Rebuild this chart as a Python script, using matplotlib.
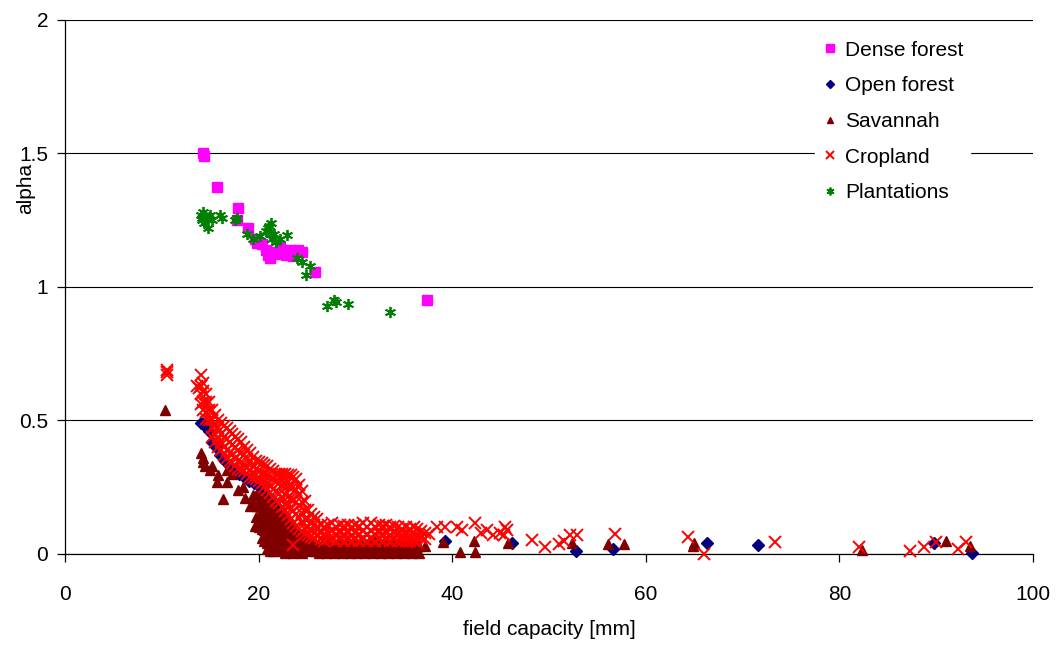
import matplotlib.pyplot as plt
import numpy as np

plt.rcParams['font.family'] = ['Liberation Sans', 'DejaVu Sans']

# alpha vs field capacity per land cover class
dense_forest = [(14.3, 1.50), (14.4, 1.49), (15.7, 1.375), (17.9, 1.295), (17.8, 1.25),
                (18.9, 1.22), (19.6, 1.18), (19.8, 1.165), (20.3, 1.16), (20.8, 1.14),
                (21.0, 1.12), (21.2, 1.11), (21.5, 1.13), (21.9, 1.125), (22.2, 1.15),
                (22.5, 1.13), (22.8, 1.12), (23.2, 1.14), (23.6, 1.115), (24.1, 1.14),
                (24.5, 1.13), (25.8, 1.055), (37.4, 0.95)]

open_forest = [(14.0, 0.49), (14.3, 0.485), (14.6, 0.475), (14.9, 0.46), (15.2, 0.42),
               (15.6, 0.40), (16.0, 0.37), (16.5, 0.35), (17.0, 0.33), (17.5, 0.31),
               (18.0, 0.30), (18.5, 0.29), (19.0, 0.275), (19.5, 0.265), (20.0, 0.255),
               (20.5, 0.24), (21.0, 0.215), (21.3, 0.205), (21.6, 0.19), (21.9, 0.175),
               (22.2, 0.165), (22.5, 0.15), (22.8, 0.135), (23.1, 0.12), (23.4, 0.10),
               (23.7, 0.08), (24.0, 0.07), (24.4, 0.06), (24.8, 0.05), (25.3, 0.045),
               (26.0, 0.03), (27.0, 0.04), (28.0, 0.02), (29.0, 0.035), (30.0, 0.03),
               (31.0, 0.02), (32.0, 0.04), (33.0, 0.025), (34.0, 0.03), (35.0, 0.02),
               (36.0, 0.035), (39.3, 0.05), (46.2, 0.04), (52.8, 0.012), (56.6, 0.02),
               (66.3, 0.04), (71.6, 0.035), (89.8, 0.04), (93.7, 0.005)]

# savannah: scattered points left of the main cloud, then column by column
savannah_pts = [(10.3, 0.54), (14.0, 0.38), (14.3, 0.36), (14.3, 0.345), (14.5, 0.33),
                (15.2, 0.33), (15.0, 0.315), (15.8, 0.295), (15.7, 0.27), (16.7, 0.315),
                (16.7, 0.27), (17.3, 0.30), (16.3, 0.205), (17.9, 0.24), (18.4, 0.25),
                (18.6, 0.21), (19.1, 0.18), (19.6, 0.105), (20.5, 0.105), (20.8, 0.065),
                (39.0, 0.045), (40.8, 0.008), (42.2, 0.05), (42.4, 0.008), (45.8, 0.04),
                (52.4, 0.04), (56.1, 0.037), (57.7, 0.037), (64.9, 0.03), (65.0, 0.04),
                (82.3, 0.015), (91.0, 0.05), (93.5, 0.03)]
savannah_cols = [(19.4, [0.22, 0.19]), (19.7, [0.22, 0.18, 0.14]),
                 (20.0, [0.22, 0.18, 0.14, 0.10]), (20.3, [0.215, 0.175, 0.135, 0.095, 0.06]),
                 (20.6, [0.21, 0.17, 0.13, 0.09, 0.05]),
                 (20.9, [0.20, 0.16, 0.12, 0.08, 0.04, 0.02]),
                 (21.2, [0.19, 0.15, 0.11, 0.07, 0.035, 0.01]),
                 (21.5, [0.18, 0.14, 0.10, 0.065, 0.03, 0.01]),
                 (21.8, [0.165, 0.13, 0.09, 0.055, 0.02]),
                 (22.1, [0.15, 0.115, 0.08, 0.045, 0.015]),
                 (22.4, [0.14, 0.105, 0.07, 0.035, 0.01]),
                 (22.7, [0.125, 0.09, 0.06, 0.03, 0.005]),
                 (23.0, [0.11, 0.08, 0.05, 0.02]), (23.3, [0.10, 0.07, 0.04, 0.01]),
                 (23.6, [0.085, 0.055, 0.025, 0.005]), (23.9, [0.075, 0.045, 0.015]),
                 (24.2, [0.065, 0.035, 0.01]), (24.5, [0.06, 0.03, 0.005]),
                 (24.8, [0.05, 0.02]), (25.1, [0.045, 0.015]), (25.4, [0.04, 0.01]),
                 (25.8, [0.04, 0.01]), (26.2, [0.03, 0.005]), (26.6, [0.045, 0.015]),
                 (27.0, [0.035, 0.005]), (27.4, [0.04, 0.01]), (27.8, [0.03, 0.005]),
                 (28.2, [0.045, 0.015]), (28.6, [0.035, 0.005]), (29.0, [0.04, 0.01]),
                 (29.4, [0.03, 0.005]), (29.8, [0.045, 0.015]), (30.2, [0.035, 0.005]),
                 (30.6, [0.04, 0.01]), (31.0, [0.03, 0.005]), (31.4, [0.045, 0.015]),
                 (31.8, [0.035, 0.005]), (32.2, [0.04, 0.01]), (32.6, [0.03, 0.005]),
                 (33.0, [0.045, 0.015]), (33.4, [0.035, 0.005]), (33.8, [0.04, 0.01]),
                 (34.2, [0.03, 0.005]), (34.6, [0.045, 0.015]), (35.0, [0.035, 0.005]),
                 (35.4, [0.04, 0.01]), (35.8, [0.03, 0.005]), (36.2, [0.04, 0.015]),
                 (36.6, [0.03, 0.005]), (37.2, [0.03])]

# cropland: the dense band column by column, then the sparse points
cropland_cols = [(10.5, [0.69, 0.68, 0.67]), (13.6, [0.63]), (13.8, [0.62]),
                 (14.0, [0.67, 0.63, 0.60, 0.56]), (14.3, [0.64, 0.61, 0.57, 0.54]),
                 (14.6, [0.60, 0.57, 0.53, 0.505]), (14.9, [0.57, 0.54, 0.50]),
                 (15.2, [0.54, 0.50, 0.47, 0.44]), (15.5, [0.52, 0.48, 0.45, 0.42]),
                 (15.8, [0.50, 0.47, 0.43, 0.40]), (16.1, [0.49, 0.45, 0.42, 0.39]),
                 (16.4, [0.48, 0.44, 0.40, 0.37]), (16.7, [0.47, 0.43, 0.39, 0.36]),
                 (17.0, [0.46, 0.42, 0.38, 0.35]), (17.3, [0.45, 0.41, 0.37, 0.34]),
                 (17.6, [0.44, 0.40, 0.36, 0.33]), (17.9, [0.43, 0.39, 0.35, 0.32]),
                 (18.2, [0.42, 0.38, 0.345, 0.315]), (18.5, [0.40, 0.37, 0.335, 0.31]),
                 (18.8, [0.39, 0.355, 0.325, 0.30]), (19.1, [0.38, 0.345, 0.315, 0.29]),
                 (19.4, [0.365, 0.33, 0.30, 0.285]), (19.7, [0.35, 0.32, 0.295, 0.28]),
                 (20.0, [0.345, 0.31, 0.275]), (20.3, [0.34, 0.30, 0.265]),
                 (20.6, [0.335, 0.30, 0.27, 0.25]), (20.9, [0.33, 0.295, 0.265, 0.24]),
                 (21.2, [0.32, 0.29, 0.26, 0.23]), (21.5, [0.31, 0.28, 0.245, 0.215]),
                 (21.8, [0.30, 0.27, 0.235, 0.20]), (22.1, [0.30, 0.265, 0.225, 0.19]),
                 (22.4, [0.30, 0.26, 0.215, 0.175]), (22.7, [0.30, 0.26, 0.22, 0.185, 0.16]),
                 (23.0, [0.295, 0.255, 0.215, 0.18, 0.145]),
                 (23.3, [0.295, 0.255, 0.21, 0.17, 0.13]),
                 (23.6, [0.29, 0.25, 0.205, 0.16, 0.115]),
                 (23.9, [0.28, 0.24, 0.195, 0.15, 0.105]),
                 (24.2, [0.26, 0.22, 0.18, 0.135, 0.095]),
                 (24.5, [0.235, 0.195, 0.155, 0.115, 0.085]),
                 (24.8, [0.20, 0.165, 0.13, 0.095, 0.075]),
                 (25.1, [0.165, 0.13, 0.10, 0.07]), (25.4, [0.15, 0.12, 0.09, 0.065]),
                 (25.7, [0.14, 0.11, 0.08, 0.06]), (26.0, [0.13, 0.10, 0.07]),
                 (26.4, [0.11, 0.08, 0.055]), (26.8, [0.10, 0.075, 0.05]),
                 (27.2, [0.11, 0.08, 0.055]), (27.6, [0.115, 0.085, 0.055]),
                 (28.0, [0.10, 0.075, 0.05]), (28.4, [0.11, 0.08, 0.055]),
                 (28.8, [0.105, 0.075, 0.05]), (29.2, [0.11, 0.08, 0.055]),
                 (29.6, [0.10, 0.07, 0.05]), (30.0, [0.11, 0.08, 0.055]),
                 (30.4, [0.105, 0.075, 0.05]), (30.8, [0.115, 0.085, 0.055]),
                 (31.2, [0.10, 0.075, 0.05]), (31.6, [0.115, 0.085, 0.055]),
                 (32.0, [0.10, 0.075, 0.05]), (32.4, [0.11, 0.08, 0.055]),
                 (32.8, [0.105, 0.075, 0.05]), (33.2, [0.11, 0.08, 0.055]),
                 (33.6, [0.10, 0.07, 0.05]), (34.0, [0.105, 0.08, 0.055]),
                 (34.4, [0.10, 0.075, 0.05]), (34.8, [0.095, 0.07, 0.05]),
                 (35.2, [0.10, 0.075, 0.05]), (35.6, [0.095, 0.07, 0.05]),
                 (36.0, [0.10, 0.07, 0.05]), (36.4, [0.095, 0.065, 0.045]),
                 (36.8, [0.085, 0.06]), (37.2, [0.08, 0.055]), (37.6, [0.075])]
cropland_pts = [(38.4, 0.10), (39.3, 0.10), (40.5, 0.10), (41.0, 0.09), (42.4, 0.115),
                (43.0, 0.08), (43.6, 0.09), (44.2, 0.07), (44.9, 0.08), (45.5, 0.10),
                (45.7, 0.09), (45.4, 0.07), (48.2, 0.053), (49.6, 0.026), (51.0, 0.037),
                (51.5, 0.05), (52.2, 0.07), (52.9, 0.07), (56.8, 0.075), (64.4, 0.065),
                (66.0, 0.0), (73.3, 0.045), (82.0, 0.026), (87.3, 0.01), (88.7, 0.026),
                (90.0, 0.045), (92.3, 0.02), (93.1, 0.045), (23.6, 0.035)]

plantations = [(14.0, 1.27), (14.1, 1.25), (14.2, 1.26), (14.3, 1.28), (14.4, 1.24),
               (14.5, 1.27), (14.6, 1.26), (14.8, 1.22), (15.0, 1.27), (15.2, 1.25),
               (16.0, 1.27), (16.2, 1.26), (17.6, 1.25), (17.8, 1.26), (18.8, 1.20),
               (19.4, 1.18), (20.1, 1.19), (20.8, 1.21), (21.0, 1.22), (21.1, 1.23),
               (21.2, 1.20), (21.3, 1.24), (21.4, 1.18), (21.6, 1.20), (21.8, 1.17),
               (22.2, 1.18), (22.9, 1.195), (24.0, 1.11), (24.5, 1.095), (25.3, 1.08),
               (24.9, 1.045), (27.1, 0.93), (27.8, 0.95), (28.0, 0.945), (29.2, 0.935),
               (33.6, 0.905)]


def expand(cols, pts):
    out = [(x, y) for x, ys in cols for y in ys]
    return out + list(pts)


savannah = expand(savannah_cols, savannah_pts)
cropland = expand(cropland_cols, cropland_pts)

series = [
    ("Dense forest", dense_forest, 's', '#FF00FF', 7.5, 1.0),
    ("Open forest", open_forest, 'D', '#000080', 6.5, 1.0),
    ("Savannah", savannah, '^', '#800000', 6.5, 1.0),
    ("Cropland", cropland, 'x', '#FF0000', 8, 1.4),
    ("Plantations", plantations, (6, 2, 0), '#008000', 8, 1.3),
]

fig = plt.figure(figsize=(10.64, 6.49), dpi=100)
ax = fig.add_axes([0.0611, 0.1464, 0.9098, 0.8228])

for name, pts, mk, col, ms, mew in series:
    arr = np.array(pts)
    ax.plot(arr[:, 0], arr[:, 1], linestyle='none', marker=mk, color=col,
            markersize=ms, markeredgewidth=mew, label=name, zorder=3, clip_on=False)

ax.set_xlim(0, 100)
ax.set_ylim(0, 2)
ax.set_xticks(np.arange(0, 101, 20))
ax.set_yticks([0, 0.5, 1, 1.5, 2])
ax.set_yticklabels(['0', '0.5', '1', '1.5', '2'])
ax.grid(axis='y', color='black', linewidth=0.8, zorder=0)
ax.set_axisbelow(True)

for s in ['top', 'right']:
    ax.spines[s].set_visible(False)
for s in ['left', 'bottom']:
    ax.spines[s].set_linewidth(0.9)

ax.tick_params(direction='out', length=6, width=0.9, labelsize=15)
ax.tick_params(axis='x', pad=16)
ax.tick_params(axis='y', pad=6)
ax.set_xlabel("field capacity [mm]", fontsize=15, labelpad=12)
ax.set_ylabel("alpha", fontsize=15)
ax.yaxis.set_label_coords(-0.031, 0.685)

leg = ax.legend(loc='upper left', bbox_to_anchor=(0.775, 0.973), frameon=True,
                fancybox=False, edgecolor='white', framealpha=1, fontsize=15,
                markerscale=0.7, handlelength=0.8, handletextpad=0.35,
                labelspacing=0.8, borderpad=0.3, borderaxespad=0)
leg.set_zorder(5)

fig.savefig("out.png", dpi=100)
